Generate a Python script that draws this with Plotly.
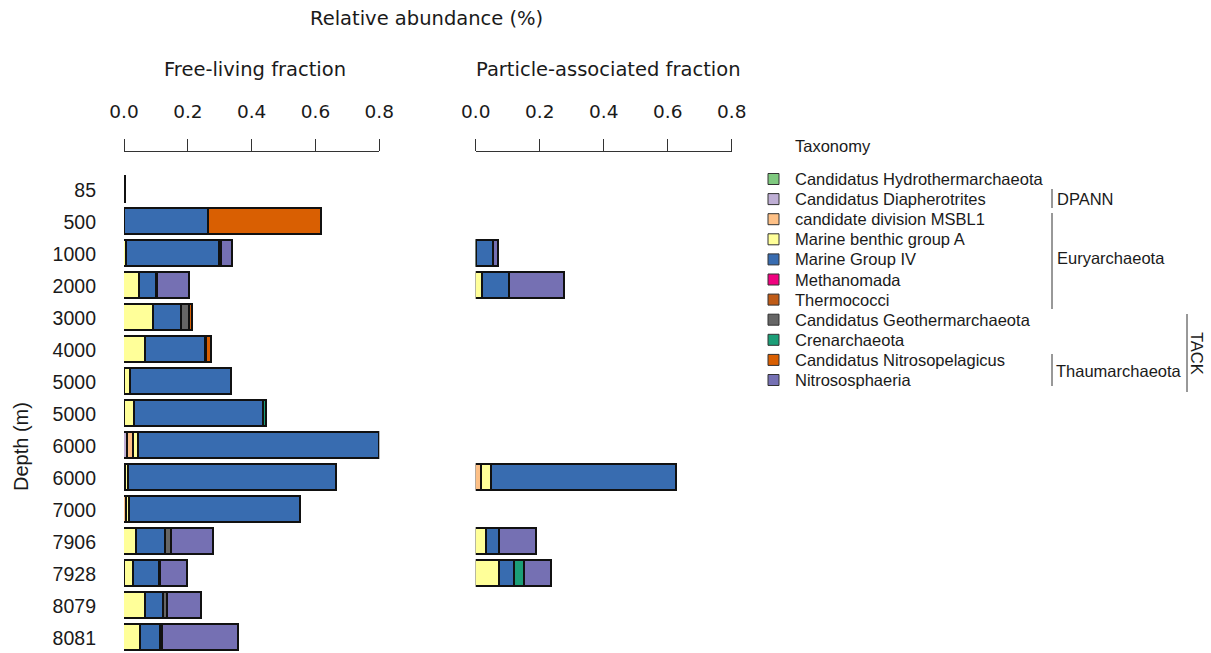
import plotly.graph_objects as go

W, H = 1211, 653

depths = ["85", "500", "1000", "2000", "3000", "4000", "5000", "5000",
          "6000", "6000", "7000", "7906", "7928", "8079", "8081"]

taxa = ["Candidatus Hydrothermarchaeota", "Candidatus Diapherotrites",
        "candidate division MSBL1", "Marine benthic group A", "Marine Group IV",
        "Methanomada", "Thermococci", "Candidatus Geothermarchaeota",
        "Crenarchaeota", "Candidatus Nitrosopelagicus", "Nitrososphaeria"]

colors = ["#7fc97f", "#beaed4", "#fdc086", "#ffff99", "#386cb0", "#f0027f",
          "#bf5b17", "#666666", "#1b9e77", "#d95f02", "#7570b3"]

# Free-living fraction (relative abundance)
fl_hydro = [0, 0.003, 0, 0, 0, 0, 0.003, 0.004, 0, 0, 0, 0, 0.004, 0, 0]
fl_diaph = [0, 0, 0, 0, 0, 0, 0, 0, 0.012, 0, 0, 0, 0, 0, 0]
fl_msbl1 = [0, 0, 0, 0, 0, 0, 0, 0, 0.019, 0.007, 0.008, 0, 0, 0, 0]
fl_mbga = [0, 0, 0.01, 0.05, 0.095, 0.07, 0.018, 0.032, 0.016, 0.01, 0.012, 0.04, 0.028, 0.07, 0.053]
fl_mg4 = [0.006, 0.262, 0.29, 0.052, 0.086, 0.187, 0.318, 0.404, 0.754, 0.651, 0.536, 0.092, 0.082, 0.054, 0.062]
fl_methano = [0] * 15
fl_thermo = [0] * 15
fl_geo = [0, 0, 0.008, 0.005, 0.026, 0.003, 0, 0, 0, 0, 0, 0.018, 0.003, 0.014, 0.006]
fl_cren = [0, 0, 0, 0, 0, 0, 0, 0.008, 0, 0, 0, 0, 0, 0, 0]
fl_npel = [0, 0.355, 0, 0, 0.01, 0.015, 0, 0, 0, 0, 0, 0, 0, 0, 0]
fl_nsph = [0, 0, 0.035, 0.1, 0, 0, 0, 0, 0, 0, 0, 0.133, 0.083, 0.107, 0.24]

# Particle-associated fraction
pa_hydro = [0, 0, 0.003, 0, 0, 0, 0, 0, 0, 0, 0, 0, 0, 0, 0]
pa_diaph = [0] * 15
pa_msbl1 = [0, 0, 0, 0, 0, 0, 0, 0, 0, 0.019, 0, 0, 0, 0, 0]
pa_mbga = [0, 0, 0, 0.022, 0, 0, 0, 0, 0, 0.031, 0, 0.033, 0.074, 0, 0]
pa_mg4 = [0, 0, 0.052, 0.085, 0, 0, 0, 0, 0, 0.578, 0, 0.042, 0.047, 0, 0]
pa_methano = [0] * 15
pa_thermo = [0] * 15
pa_geo = [0] * 15
pa_cren = [0, 0, 0, 0, 0, 0, 0, 0, 0, 0, 0, 0, 0.031, 0, 0]
pa_npel = [0] * 15
pa_nsph = [0, 0, 0.016, 0.172, 0, 0, 0, 0, 0, 0, 0, 0.117, 0.087, 0, 0]

free_living = [fl_hydro, fl_diaph, fl_msbl1, fl_mbga, fl_mg4, fl_methano,
               fl_thermo, fl_geo, fl_cren, fl_npel, fl_nsph]
particle = [pa_hydro, pa_diaph, pa_msbl1, pa_mbga, pa_mg4, pa_methano,
            pa_thermo, pa_geo, pa_cren, pa_npel, pa_nsph]

xticks = [0.0, 0.2, 0.4, 0.6, 0.8]


def px(x):
    return x / W


def py(y):
    return 1 - y / H


rows = list(range(len(depths)))
fig = go.Figure()

edge = dict(color="#111111", width=1.8)
for t, c, vals in zip(taxa, colors, free_living):
    fig.add_trace(go.Bar(
        x=[v if v else None for v in vals], y=rows, orientation="h", name=t,
        marker=dict(color=c, line=edge),
        width=0.83, xaxis="x", yaxis="y", showlegend=False))
for t, c, vals in zip(taxa, colors, particle):
    fig.add_trace(go.Bar(
        x=[v if v else None for v in vals], y=rows, orientation="h", name=t,
        marker=dict(color=c, line=edge),
        width=0.83, xaxis="x2", yaxis="y2", showlegend=False))

ytop, ybot = 152, 653
row0, step = 190, 32
yrange = [(ybot - row0) / step, (ytop - row0) / step]
ydom = [py(ybot), py(ytop)]

xaxis_common = dict(
    range=[0, 0.8], side="top", tickvals=xticks,
    ticktext=[f"{v:.1f}" for v in xticks],
    ticks="outside", ticklen=12, tickwidth=1, tickcolor="#333333",
    showline=True, linecolor="#333333", linewidth=1, showgrid=False,
    zeroline=False, ticklabelstandoff=14, automargin=False,
    tickfont=dict(family="DejaVu Sans", size=18.5, color="#1a1a1a"),
    fixedrange=True)

fig.update_layout(
    width=W, height=H, margin=dict(l=0, r=0, t=0, b=0, autoexpand=False),
    paper_bgcolor="white", plot_bgcolor="white", barmode="stack",
    bargap=0,
    xaxis=dict(domain=[px(124), px(379.3)], anchor="y", **xaxis_common),
    xaxis2=dict(domain=[px(475.7), px(731.7)], anchor="y2", **xaxis_common),
    yaxis=dict(domain=ydom, range=yrange, tickvals=rows, ticktext=depths,
               showgrid=False, zeroline=False, showline=False, ticks="",
               ticklabelstandoff=27, automargin=False,
               tickfont=dict(family="Liberation Sans", size=19.5, color="#1a1a1a")),
    yaxis2=dict(domain=ydom, range=yrange, anchor="x2", showticklabels=False,
                showgrid=False, zeroline=False, showline=False, ticks="",
                automargin=False),
)

font_dv = dict(family="DejaVu Sans", size=19.5, color="#1a1a1a")
font_ls = dict(family="Liberation Sans", size=16.5, color="#1a1a1a")

ann = [
    dict(text="Relative abundance (%)", x=px(426), y=py(18), font=font_dv),
    dict(text="Free-living fraction", x=px(255), y=py(70), font=font_dv),
    dict(text="Particle-associated fraction", x=px(608), y=py(70), font=font_dv),
    dict(text="Depth (m)", x=px(21), y=py(446), textangle=-90,
         font=dict(family="Liberation Sans", size=20, color="#1a1a1a")),
    dict(text="Taxonomy", x=px(793), y=py(146), xanchor="left", font=font_ls),
]
for a in ann:
    a.setdefault("xanchor", "center")
    a.update(xref="paper", yref="paper", yanchor="middle", showarrow=False)
    fig.add_annotation(**a)

shapes = []
leg_y0, leg_step = 179, 20.1
for i, (t, c) in enumerate(zip(taxa, colors)):
    yc = leg_y0 + i * leg_step
    shapes.append(dict(type="rect", xref="paper", yref="paper",
                       x0=px(768), x1=px(779), y0=py(yc + 5.5), y1=py(yc - 5.5),
                       fillcolor=c, line=dict(color="#333333", width=1)))
    fig.add_annotation(text=t, x=px(793), y=py(yc), xref="paper", yref="paper",
                       xanchor="left", yanchor="middle", showarrow=False,
                       font=font_ls)

groups = [
    ("DPANN", 1052, 189, 208, 1055, 199),
    ("Euryarchaeota", 1052, 213, 309, 1055, 258),
    ("Thaumarchaeota", 1052, 354, 386, 1054, 371),
]
for name, lx, y0, y1, tx, ty in groups:
    shapes.append(dict(type="line", xref="paper", yref="paper",
                       x0=px(lx), x1=px(lx), y0=py(y0), y1=py(y1),
                       line=dict(color="#333333", width=1)))
    fig.add_annotation(text=name, x=px(tx), y=py(ty), xref="paper", yref="paper",
                       xanchor="left", yanchor="middle", showarrow=False,
                       font=font_ls)
shapes.append(dict(type="line", xref="paper", yref="paper",
                   x0=px(1187), x1=px(1187), y0=py(314), y1=py(392),
                   line=dict(color="#333333", width=1)))
fig.add_annotation(text="TACK", x=px(1197), y=py(353), xref="paper", yref="paper",
                   xanchor="center", yanchor="middle", showarrow=False,
                   textangle=90, font=font_ls)

fig.update_layout(shapes=shapes)
fig.write_html("out.html")
